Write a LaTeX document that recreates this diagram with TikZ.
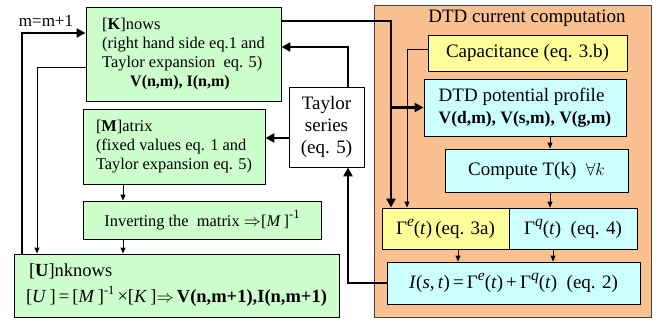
\documentclass[tikz,border=0pt]{standalone}
\usepackage{fontspec}
\setmainfont{Liberation Serif}
\usetikzlibrary{arrows.meta,calc}
\definecolor{gfill}{RGB}{204,255,204}
\definecolor{ofill}{RGB}{250,192,144}
\definecolor{yfill}{RGB}{255,255,153}
\definecolor{cfill}{RGB}{204,255,255}
\newcommand\supit[1]{\raisebox{0.42em}{\fontsize{15.5}{15}\selectfont\textit{#1}}}
\newcommand\supmo{\raisebox{0.45em}{\fontsize{12.5}{12}\selectfont -1}}
\begin{document}
\begin{tikzpicture}[x=1pt,y=-1pt,
  bx/.style={draw=black,line width=0.9pt,inner sep=0pt},
  lft/.style={font={\fontsize{16.4}{19}\selectfont}},
  rgt/.style={font={\fontsize{19}{22}\selectfont}},
  gbx/.style={bx,fill=gfill,lft,align=left},
  thin/.style={line width=0.9pt,-{Triangle[length=6pt,width=5pt]}},
  thk/.style={line width=2.8pt,-{Triangle[length=9pt,width=9pt]}}]
\useasboundingbox (0,0) rectangle (659,322);
% panel
\node[draw=black!75,line width=0.9pt,fill=ofill,minimum width=277pt,minimum height=312pt,inner sep=0pt] (p) at (512.5,161) {};
\node[rgt] (title) at (527,18) {DTD current computation};
% left boxes
\node[gbx,minimum width=195pt,minimum height=94pt] (k) at (183.5,54)
 {[\textbf{K}]nows\\(right hand side eq.1 and\\Taylor expansion\ \ eq. 5)\\\hspace*{28pt}{\fontsize{16}{19}\selectfont\textbf{V(n,m), I(n,m)}}};
\node[gbx,minimum width=182pt,minimum height=75pt] (m) at (174,146.5)
 {[\textbf{M}]atrix\\(fixed values eq. 1 and\\Taylor expansion eq. 5)};
\node[gbx,minimum width=238pt,minimum height=38pt] (inv) at (202,220)
 {Inverting the\ \ matrix $\Rightarrow$[\textit{M}\,]\supmo};
\node[gbx,minimum width=325pt,minimum height=63pt,font={\fontsize{18.5}{26}\selectfont}] (u) at (176.5,285.5)
 {\hspace*{3pt}[\textbf{U}]nknows\\{}[\textit{U}\,]\,=\,[\textit{M}\,]\supmo\,×[\textit{K}\,]$\Rightarrow$\,\textbf{V(n,m+1),I(n,m+1)}};
\node[bx,fill=white,rgt,align=center,minimum width=75pt,minimum height=80pt] (t) at (326.5,127)
 {Taylor\\series\\(eq. 5)};
\node[font={\fontsize{17}{19}\selectfont}] (mlab) at (46,21) {m=m+1};
% right boxes
\node[bx,fill=yfill,rgt,minimum width=199pt,minimum height=36pt] (cap) at (527.5,53) {Capacitance (eq. 3.b)};
\node[bx,fill=cfill,rgt,align=left,minimum width=202pt,minimum height=57pt] (dtd) at (525,107.5)
 {DTD potential profile\\{\fontsize{17.5}{22}\selectfont\textbf{V(d,m), V(s,m), V(g,m)}}};
\node[bx,fill=cfill,rgt,minimum width=183pt,minimum height=43pt] (comp) at (536.5,170.5) {Compute T(k)\ \ $\forall k$};
\node[bx,fill=yfill,rgt,minimum width=127pt,minimum height=41pt] (ge) at (445.5,228.5) {Γ\supit{e}(\textit{t})\,(eq. 3a)};
\node[bx,fill=cfill,rgt,minimum width=128pt,minimum height=41pt] (gq) at (573,228.5) {Γ\supit{q}(\textit{t})\ \ (eq. 4)};
\node[bx,fill=cfill,rgt,minimum width=253pt,minimum height=42pt] (I) at (513.5,283)
 {\textit{I}(\textit{s},\,\textit{t})\,=\,Γ\supit{e}(\textit{t})\,+\,Γ\supit{q}(\textit{t})\ \ (eq. 2)};
% coordinates
\coordinate (c1) at (22,33);
\coordinate (c2) at (37,67);
\coordinate (c3) at (123,0);
\coordinate (c4) at (348,47);
\coordinate (c5) at (0,138);
\coordinate (c6) at (348,0);
\coordinate (c7) at (391,21);
\coordinate (c8) at (407,49);
\coordinate (c9) at (550,0);
\coordinate (c10) at (458,0);
\coordinate (c11) at (553,0);
% connectors
\draw[thk] (u.north -| c1) |- (k.west |- c1);
\draw[thin] (k.west |- c2) -| (u.north -| c2);
\draw[thin] (m.south -| c3) -- (inv.north -| c3);
\draw[thin] (inv.south -| c3) -- (u.north -| c3);
\draw[thk] (t.north -| c4) |- (k.east |- c4);
\draw[thk] (t.west |- c5) -- (m.east |- c5);
\draw[thk] (I.west) -| (t.south -| c6);
\draw[thk] (k.east |- c7) -| (ge.north -| c7);
\draw[thk] (c7 |- dtd.west) -- (dtd.west);
\draw[thin] (cap.west |- c8) -| (ge.north -| c8);
\draw[thin] (dtd.south -| c9) -- (comp.north -| c9);
\draw[thin] (comp.south -| c9) -- (gq.north -| c9);
\draw[thin] (ge.south -| c10) -- (I.north -| c10);
\draw[thin] (gq.south -| c11) -- (I.north -| c11);
\end{tikzpicture}
\end{document}
